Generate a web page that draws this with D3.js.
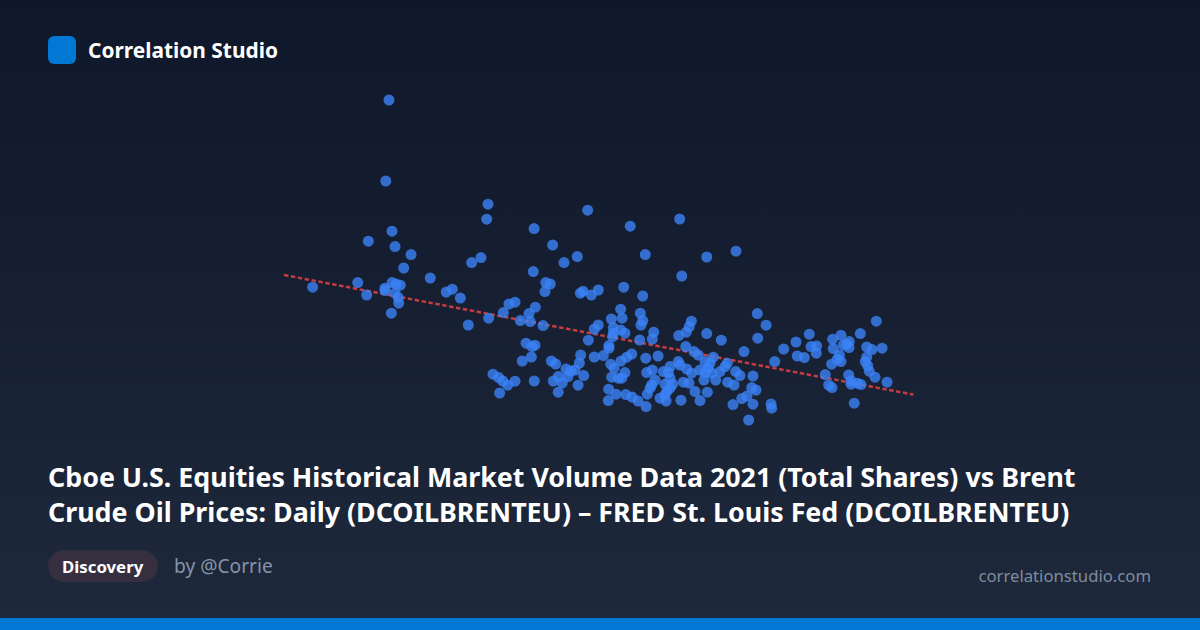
<!DOCTYPE html>
<html>
<head>
<meta charset="utf-8">
<title>Correlation Studio</title>
<script src="https://cdn.jsdelivr.net/npm/d3@7"></script>
<style>
    html, body { margin: 0; padding: 0; background: #0f172a; }
    svg { display: block; font-family: "Noto Sans", "Open Sans", sans-serif; }
</style>
</head>
<body>
<div id="chart"></div>
<script>
// Brent price (USD) and total shares (billions)
const brentPrice = [
    54.81,54.61,61.00,60.92,67.23,55.00,53.52,55.19,56.19,63.88,65.04,66.58,65.75,60.56,59.98,
    50.04,52.86,53.42,55.73,57.39,54.56,54.56,55.00,55.25,55.52,55.19,55.39,55.42,54.96,58.39,
    58.77,59.27,59.77,61.04,61.96,62.31,62.69,63.02,63.64,63.56,63.96,64.44,63.83,64.61,64.89,
    64.56,66.77,66.94,67.46,67.89,67.64,67.89,67.27,63.38,63.75,63.94,63.71,63.14,66.79,67.64,
    66.71,64.96,65.23,66.44,65.88,66.17,66.00,66.98,65.39,65.08,65.64,66.63,65.39,63.89,61.31,
    61.67,61.92,62.23,62.69,61.73,69.89,72.98,70.83,74.67,76.50,73.11,69.48,70.67,69.29,68.71,
    69.38,70.52,70.67,70.56,68.83,68.83,68.79,69.29,69.56,68.56,68.56,70.48,71.36,71.27,73.71,
    73.58,73.39,72.92,74.67,75.58,77.83,77.86,73.36,77.00,68.21,69.98,69.67,69.31,70.86,71.63,
    73.88,74.14,75.08,75.96,74.88,74.56,68.67,68.88,69.56,68.73,69.14,69.36,70.92,71.27,72.38,
    72.89,73.00,73.42,71.96,72.27,73.73,74.25,74.77,74.56,74.98,75.50,75.81,74.50,75.23,76.48,
    76.75,77.56,75.98,76.38,71.44,71.23,71.13,70.96,72.38,72.54,72.06,72.38,72.17,72.06,71.75,
    72.13,73.21,73.56,73.94,74.71,73.06,74.25,68.54,69.00,69.61,70.00,70.38,68.52,70.88,76.31,
    76.86,77.19,77.48,77.75,77.56,77.29,78.38,79.48,80.25,81.08,81.19,81.54,81.52,80.33,80.77,
    78.92,82.54,83.06,82.58,84.27,85.27,83.21,83.42,83.58,83.56,84.67,85.00,85.63,82.96,82.83,
    83.06,82.48,84.67,84.58,84.73,84.83,85.19,85.94,82.08,82.29,82.50,83.54,83.69,83.69,84.08,
    84.31,83.89,78.69,78.73
];
const totalShares = [
    24.00,19.95,18.79,18.04,18.49,17.44,16.94,16.67,16.27,17.57,16.75,16.17,15.87,16.12,15.87,
    14.64,14.87,14.25,15.60,15.10,14.59,14.47,14.87,14.80,14.74,14.34,14.12,13.84,13.34,14.40,
    14.54,14.10,12.75,13.09,13.37,13.80,13.89,12.97,12.92,13.32,13.64,12.72,15.42,14.87,14.80,
    14.42,14.34,14.44,14.25,14.50,12.55,12.75,11.99,11.84,11.67,11.74,11.15,10.95,11.25,11.15,
    10.85,10.95,10.80,10.50,10.55,10.45,10.17,10.22,10.17,9.95,9.85,9.74,9.39,9.95,10.29,
    10.12,9.95,9.74,9.94,9.35,17.69,18.05,16.27,16.15,16.44,15.20,14.64,14.20,13.54,13.05,
    13.09,13.34,12.97,12.75,12.62,12.34,12.17,12.50,12.34,11.72,11.59,12.00,12.39,12.05,12.94,
    12.67,12.39,12.22,12.32,11.99,13.32,12.09,11.67,11.42,11.22,11.30,11.14,10.95,11.09,11.20,
    11.42,11.25,11.14,10.84,10.84,10.92,10.79,10.59,10.37,10.14,10.09,10.09,10.37,10.50,10.67,
    10.92,10.75,10.55,10.42,10.37,10.34,10.50,10.59,10.37,10.34,10.42,10.67,10.00,10.00,10.42,
    10.22,10.20,9.89,9.75,10.00,9.75,9.59,9.29,10.09,9.79,9.79,9.59,9.42,9.25,9.09,
    8.95,9.89,9.84,9.42,9.39,8.99,8.97,9.54,9.29,9.27,9.15,8.95,8.97,8.67,8.77,
    9.07,9.20,9.62,9.50,8.79,8.00,12.74,11.55,11.90,12.29,11.67,11.70,11.34,11.20,11.12,
    10.92,12.04,12.24,11.57,12.32,12.94,11.75,11.79,11.92,11.62,11.65,11.52,11.59,11.25,11.04,
    10.92,10.79,11.14,10.92,10.72,10.44,10.14,9.89,10.27,9.75,9.62,10.25,9.95,9.79,9.84,
    9.77,8.84,8.80,8.59
];
const trendPrice = [48.25, 87.59];
const trendShares = [15.25, 9.27];

const titleLines = [
    "Cboe U.S. Equities Historical Market Volume Data 2021 (Total Shares) vs Brent",
    "Crude Oil Prices: Daily (DCOILBRENTEU) – FRED St. Louis Fed (DCOILBRENTEU)"
];

const width = 1200;
const height = 630;

const svg = d3.select("#chart").append("svg")
    .attr("width", width)
    .attr("height", height);

// background gradient
const grad = svg.append("defs").append("linearGradient")
    .attr("id", "bg")
    .attr("x1", 0).attr("y1", 0)
    .attr("x2", 0).attr("y2", 1);
grad.append("stop").attr("offset", "0%").attr("stop-color", "#0f172a");
grad.append("stop").attr("offset", "100%").attr("stop-color", "#1e293b");

svg.append("rect")
    .attr("width", width)
    .attr("height", height)
    .attr("fill", "url(#bg)");

svg.append("rect")
    .attr("x", 0)
    .attr("y", 618)
    .attr("width", width)
    .attr("height", 12)
    .attr("fill", "#0078d4");

// header
svg.append("rect")
    .attr("x", 48)
    .attr("y", 36)
    .attr("width", 28)
    .attr("height", 28)
    .attr("rx", 6)
    .attr("fill", "#0078d4");

svg.append("text")
    .attr("x", 88)
    .attr("y", 58)
    .attr("font-size", 20.9)
    .attr("font-weight", 700)
    .attr("fill", "#ffffff")
    .text("Correlation Studio");

// scatter
const x = d3.scaleLinear().domain([48, 88]).range([280, 920]);
const y = d3.scaleLinear().domain([8, 24]).range([420, 100]);

const trend = d3.line()
    .x((d) => x(d))
    .y((d, i) => y(trendShares[i]));

svg.append("path")
    .attr("d", trend(trendPrice))
    .attr("fill", "none")
    .attr("stroke", "#ef4444")
    .attr("stroke-width", 2.5)
    .attr("stroke-dasharray", "4.5 2.5")
    .attr("opacity", 0.8);

svg.append("g")
    .selectAll("circle")
    .data(brentPrice)
    .enter()
    .append("circle")
    .attr("cx", (d) => x(d))
    .attr("cy", (d, i) => y(totalShares[i]))
    .attr("r", 5.5)
    .attr("fill", "#3b82f6")
    .attr("opacity", 0.8);

// title
svg.append("g")
    .selectAll("text")
    .data(titleLines)
    .enter()
    .append("text")
    .attr("x", 48)
    .attr("y", (d, i) => 487 + i * 34.5)
    .attr("font-size", 26.8)
    .attr("font-weight", 700)
    .attr("fill", "#ffffff")
    .text((d) => d);

// footer
svg.append("rect")
    .attr("x", 48)
    .attr("y", 550)
    .attr("width", 110)
    .attr("height", 32)
    .attr("rx", 16)
    .attr("fill", "#352f3f");

svg.append("text")
    .attr("x", 62)
    .attr("y", 572.5)
    .attr("font-size", 16.8)
    .attr("font-weight", 700)
    .attr("fill", "#ffffff")
    .text("Discovery");

svg.append("text")
    .attr("x", 174)
    .attr("y", 573)
    .attr("font-size", 19.2)
    .attr("fill", "#8593a8")
    .text("by @Corrie");

svg.append("text")
    .attr("x", 1151)
    .attr("y", 582)
    .attr("text-anchor", "end")
    .attr("font-size", 16.7)
    .attr("fill", "#7f8ca0")
    .text("correlationstudio.com");
</script>
</body>
</html>
